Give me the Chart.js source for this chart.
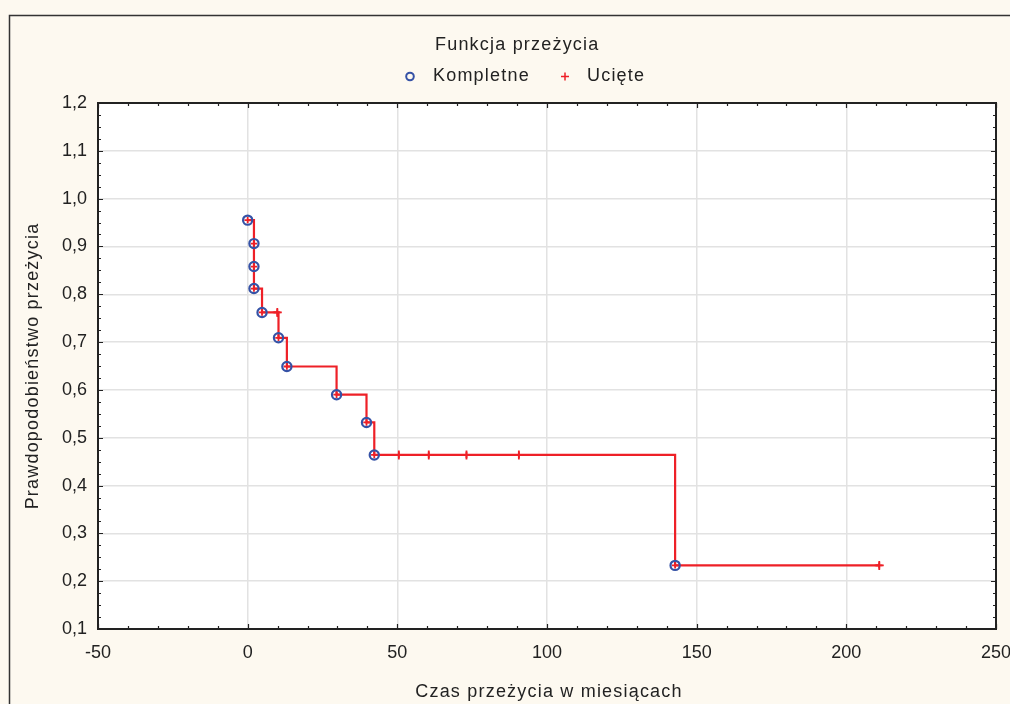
<!DOCTYPE html>
<html>
<head>
<meta charset="utf-8">
<script src="https://cdn.jsdelivr.net/npm/chart.js@4.4.1/dist/chart.umd.min.js"></script>
<style>
  html, body { margin: 0; padding: 0; background: #fdf9f0; }
  canvas { display: block; }
</style>
</head>
<body>
<canvas id="c" width="1010" height="704"></canvas>
<script>
// ---- data ----
const completeTimes = [0, 2.1, 2.1, 2.1, 4.8, 10.3, 13.1, 29.7, 39.7, 42.3, 142.8];
const completeSurv  = [0.955, 0.906, 0.858, 0.812, 0.762, 0.709, 0.649, 0.590, 0.532, 0.464, 0.233];
const censoredTimes = [9.9, 50.5, 60.5, 73.1, 90.6, 211];
const censoredSurv  = [0.762, 0.464, 0.464, 0.464, 0.464, 0.233];
const xTickValues = [-50, 0, 50, 100, 150, 200, 250];
const yTickValues = [0.1, 0.2, 0.3, 0.4, 0.5, 0.6, 0.7, 0.8, 0.9, 1.0, 1.1, 1.2];
const titleText = 'Funkcja przeżycia';
const seriesNames = ['Kompletne', 'Ucięte'];
const xTitle = 'Czas przeżycia w miesiącach';
const yTitle = 'Prawdopodobieństwo przeżycia';

const RED = '#ee2027';
const BLUE = '#3552a6';
const FONT = '"Liberation Sans", Arial, sans-serif';

const completePts = completeTimes.map((t, i) => ({x: t, y: completeSurv[i]}));
const censoredPts = censoredTimes.map((t, i) => ({x: t, y: censoredSurv[i]}));
const stepPts = completePts.concat(censoredPts).sort((a, b) => a.x - b.x || b.y - a.y);

const deco = {
  id: 'deco',
  beforeDraw(chart) {
    const {ctx, chartArea: a} = chart;
    ctx.save();
    ctx.fillStyle = '#fdf9f0';
    ctx.fillRect(0, 0, chart.width, chart.height);
    ctx.fillStyle = '#ffffff';
    ctx.fillRect(a.left, a.top, a.right - a.left, a.bottom - a.top);
    ctx.strokeStyle = '#333';
    ctx.lineWidth = 1.5;
    ctx.beginPath();
    ctx.moveTo(9.5, chart.height);
    ctx.lineTo(9.5, 15.5);
    ctx.lineTo(chart.width, 15.5);
    ctx.stroke();
    ctx.restore();
  },
  beforeDatasetsDraw(chart) {
    const {ctx, chartArea: a, scales} = chart;
    ctx.save();
    ctx.strokeStyle = '#222';
    ctx.lineWidth = 1.2;
    ctx.beginPath();
    const xmin = xTickValues[0], xmax = xTickValues[xTickValues.length - 1];
    for (let v = xmin; v <= xmax + 1e-9; v += 10) {
      const px = Math.round(scales.x.getPixelForValue(v)) + 0.5;
      const len = (Math.abs(v % 50) < 1e-9) ? 5 : 3;
      ctx.moveTo(px, a.bottom); ctx.lineTo(px, a.bottom - len);
      ctx.moveTo(px, a.top); ctx.lineTo(px, a.top + len);
    }
    const ymin = yTickValues[0], ymax = yTickValues[yTickValues.length - 1];
    const n = Math.round((ymax - ymin) / 0.025);
    for (let i = 0; i <= n; i++) {
      const v = ymin + i * 0.025;
      const py = Math.round(scales.y.getPixelForValue(v)) + 0.5;
      const len = (i % 4 === 0) ? 5 : 3;
      ctx.moveTo(a.left, py); ctx.lineTo(a.left + len, py);
      ctx.moveTo(a.right, py); ctx.lineTo(a.right - len, py);
    }
    ctx.stroke();
    ctx.strokeStyle = '#222';
    ctx.lineWidth = 2;
    ctx.strokeRect(a.left, a.top, a.right - a.left, a.bottom - a.top);
    ctx.restore();
  },
  afterDraw(chart) {
    const {ctx} = chart;
    ctx.save();
    ctx.fillStyle = '#222';
    ctx.font = '18px ' + FONT;
    ctx.letterSpacing = '1.2px';
    ctx.textBaseline = 'middle';
    ctx.textAlign = 'left';
    ctx.fillText(titleText, 435, 45);
    // legend
    ctx.fillText(seriesNames[0], 433, 76);
    ctx.fillText(seriesNames[1], 587, 76);
    ctx.strokeStyle = BLUE; ctx.lineWidth = 2;
    ctx.beginPath(); ctx.arc(410, 76.5, 3.8, 0, Math.PI * 2); ctx.stroke();
    ctx.strokeStyle = RED; ctx.lineWidth = 1.5;
    ctx.beginPath();
    ctx.moveTo(561, 76.5); ctx.lineTo(569, 76.5);
    ctx.moveTo(565, 72.5); ctx.lineTo(565, 80.5);
    ctx.stroke();
    // axis titles
    ctx.textAlign = 'center';
    ctx.fillText(xTitle, 549, 692);
    ctx.translate(33, 366);
    ctx.rotate(-Math.PI / 2);
    ctx.fillText(yTitle, 0, 0);
    ctx.restore();
  }
};

new Chart(document.getElementById('c'), {
  type: 'scatter',
  data: {
    datasets: [
      {
        label: seriesNames[1],
        data: censoredPts,
        showLine: false,
        pointStyle: 'cross',
        pointRadius: 4.5,
        pointHoverRadius: 4.5,
        pointBorderColor: RED,
        pointBackgroundColor: RED,
        pointBorderWidth: 1.8
      },
      {
        label: seriesNames[0],
        data: completePts,
        showLine: false,
        pointStyle: 'circle',
        pointRadius: 4.6,
        pointHoverRadius: 4.6,
        pointBorderColor: BLUE,
        pointBackgroundColor: 'rgba(0,0,0,0)',
        pointBorderWidth: 2.2
      },
      {
        label: 'step',
        data: stepPts,
        showLine: true,
        stepped: 'before',
        borderColor: RED,
        borderWidth: 2.2,
        pointStyle: 'cross',
        pointRadius: 3.2,
        pointHoverRadius: 3.2,
        pointBorderColor: RED,
        pointBorderWidth: 1.8,
        fill: false
      }
    ]
  },
  options: {
    responsive: false,
    animation: false,
    events: [],
    layout: { padding: { top: 103, right: 0, left: 0, bottom: 0 } },
    plugins: {
      legend: { display: false },
      title: { display: false },
      tooltip: { enabled: false }
    },
    scales: {
      x: {
        type: 'linear',
        min: xTickValues[0],
        max: xTickValues[xTickValues.length - 1],
        afterBuildTicks: s => { s.ticks = xTickValues.map(v => ({value: v})); },
        afterFit: s => { s.height = 75; s.paddingRight = 14; s.paddingLeft = 0; },
        border: { display: false },
        grid: { color: '#e2e2e2', lineWidth: 1.5, drawTicks: false },
        ticks: {
          color: '#222',
          font: { family: FONT, size: 18 },
          padding: 13,
          maxRotation: 0,
          callback: v => String(v)
        }
      },
      y: {
        type: 'linear',
        min: yTickValues[0],
        max: yTickValues[yTickValues.length - 1],
        afterBuildTicks: s => { s.ticks = yTickValues.map(v => ({value: v})); },
        afterFit: s => { s.width = 98; s.paddingTop = 0; s.paddingBottom = 0; },
        border: { display: false },
        grid: { color: '#e2e2e2', lineWidth: 1.5, drawTicks: false },
        ticks: {
          color: '#222',
          font: { family: FONT, size: 18 },
          padding: 11,
          callback: v => Number(v).toFixed(1).replace('.', ',')
        }
      }
    }
  },
  plugins: [deco]
});
</script>
</body>
</html>
